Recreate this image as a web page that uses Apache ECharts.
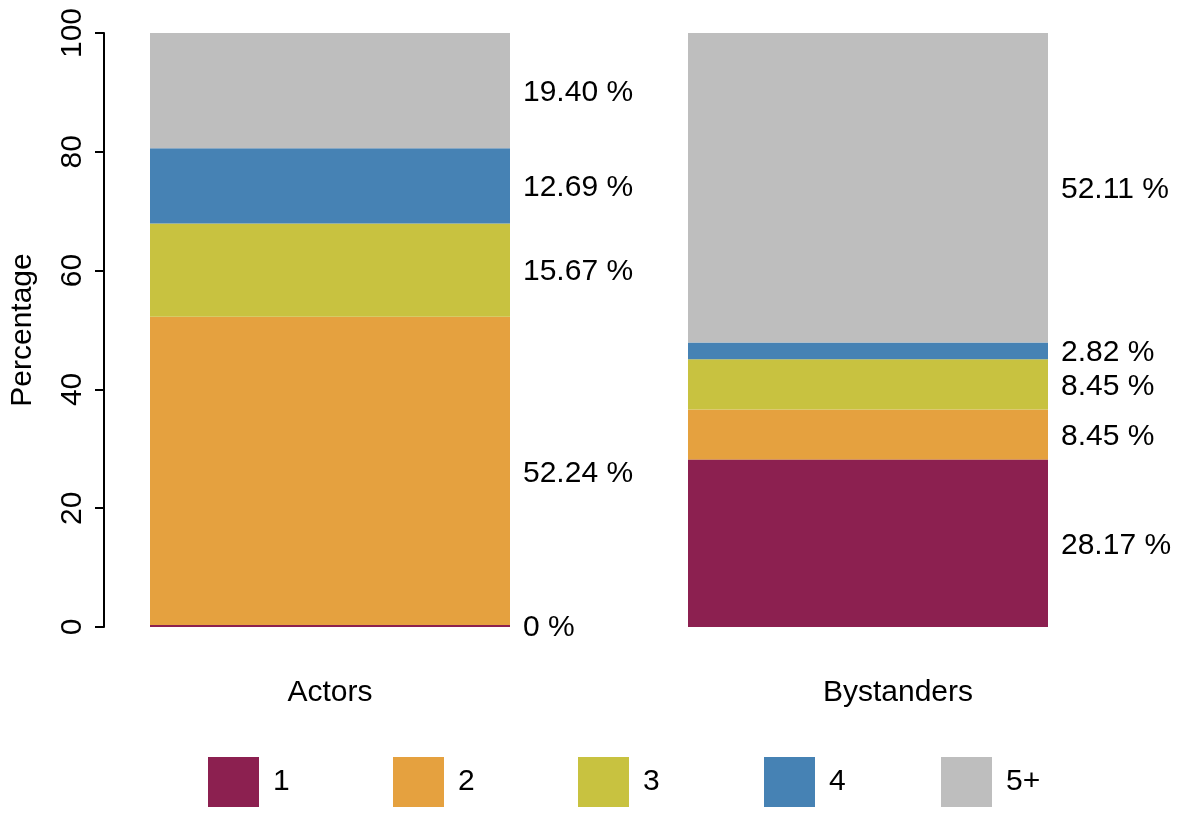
<!DOCTYPE html>
<html>
<head>
<meta charset="utf-8">
<script src="https://cdn.jsdelivr.net/npm/echarts@6/dist/echarts.min.js"></script>
<style>
html,body{margin:0;padding:0;background:#fff;}
#chart{width:1181px;height:818px;}
</style>
</head>
<body>
<div id="chart"></div>
<script>
var categories = ['Actors', 'Bystanders'];
var groupNames = ['1', '2', '3', '4', '5+'];
var values1 = [0, 28.17];
var values2 = [52.24, 8.45];
var values3 = [15.67, 8.45];
var values4 = [12.69, 2.82];
var values5 = [19.40, 52.11];
var yTicks = [0, 20, 40, 60, 80, 100];
var colors = ['#8C2050', '#E5A13F', '#C8C240', '#4682B4', '#BEBEBE'];

var allValues = [values1, values2, values3, values4, values5];
var FONT = 'Liberation Sans, Arial, Helvetica, sans-serif';
var FS = 30;

var chart = echarts.init(document.getElementById('chart'));

function fmt(p) {
  var v = p.value;
  return v === 0 ? '0 %' : v.toFixed(2) + ' %';
}

var series = allValues.map(function (vals, i) {
  return {
    name: groupNames[i],
    type: 'bar',
    stack: 'total',
    data: vals,
    barWidth: 360,
    barMinHeight: i === 0 ? 2 : 0,
    z: i === 0 ? 3 : 2,
    itemStyle: { color: colors[i] },
    label: {
      show: true,
      position: 'right',
      distance: 13,
      offset: [0, 2],
      formatter: fmt,
      color: '#000',
      fontSize: FS,
      fontFamily: FONT
    }
  };
});

var legendLefts = [203, 388, 573, 759, 936];
var legends = groupNames.map(function (n, i) {
  return {
    data: [n],
    left: legendLefts[i],
    top: 752,
    icon: 'rect',
    itemWidth: 51,
    itemHeight: 50,
    selectedMode: false,
    textStyle: {
      color: '#000',
      fontSize: FS,
      fontFamily: FONT,
      padding: [0, 0, 0, 9]
    }
  };
});

var catData = categories.map(function (c, i) {
  return i === 1 ? { value: c, textStyle: { padding: [0, 0, 0, 60] } } : c;
});

chart.setOption({
  backgroundColor: '#fff',
  animation: false,
  textStyle: { fontFamily: FONT },
  grid: { left: 61, right: 44, top: 33, bottom: 191, containLabel: false },
  legend: legends,
  xAxis: {
    type: 'category',
    data: catData,
    axisLine: { show: false },
    axisTick: { show: false },
    axisLabel: { color: '#000', fontSize: FS, fontFamily: FONT, margin: 51 },
    splitLine: { show: false }
  },
  yAxis: {
    type: 'value',
    min: yTicks[0],
    max: yTicks[yTicks.length - 1],
    interval: 20,
    offset: -43,
    name: 'Percentage',
    nameLocation: 'middle',
    nameGap: 66,
    nameTextStyle: { color: '#000', fontSize: FS, fontFamily: FONT },
    axisLine: { show: true, lineStyle: { color: '#000', width: 2 } },
    axisTick: { show: true, length: 9, lineStyle: { color: '#000', width: 2 } },
    axisLabel: { color: '#000', fontSize: FS, fontFamily: FONT, rotate: 90, margin: 16 },
    splitLine: { show: false }
  },
  series: series
});
</script>
</body>
</html>
